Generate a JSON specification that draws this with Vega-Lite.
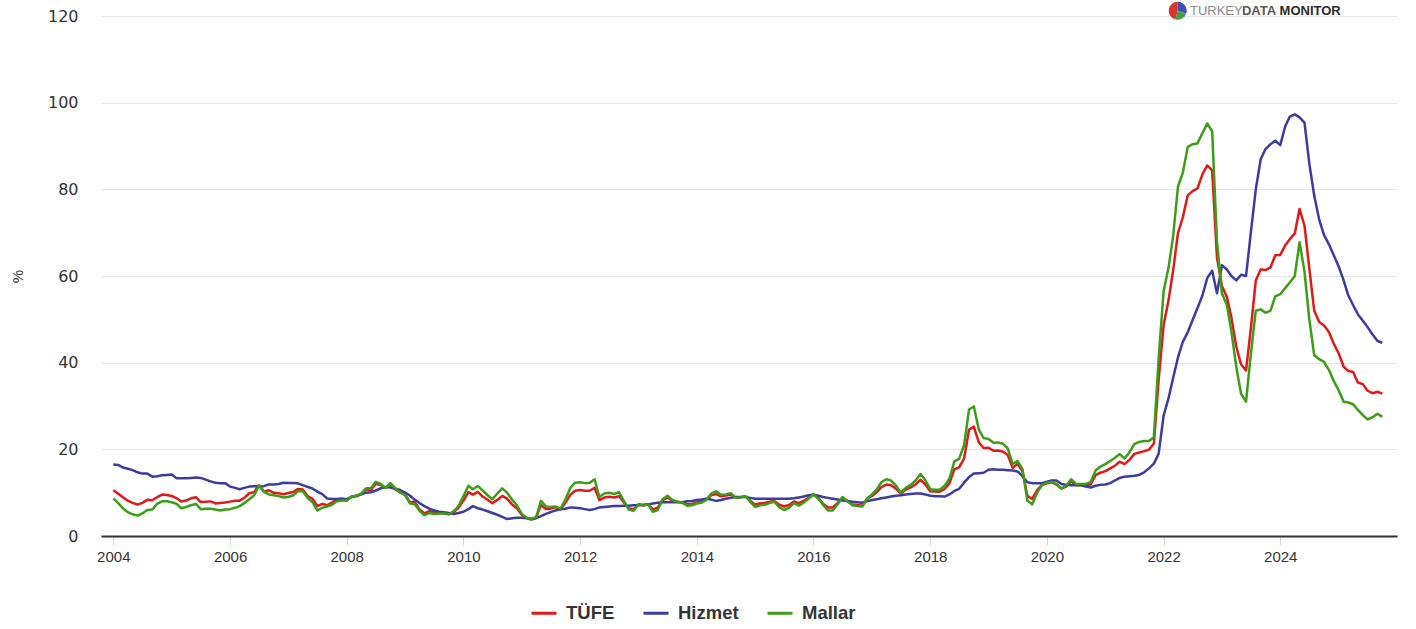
{
  "$schema": "https://vega.github.io/schema/vega-lite/v6.json",
  "width": 1296,
  "height": 520,
  "padding": {"left": 101, "top": 16, "right": 19, "bottom": 93},
  "autosize": {"type": "none"},
  "background": "white",
  "config": {
    "view": {"stroke": null},
    "font": "Liberation Sans"
  },
  "datasets": {
    "cpi": [
      {"d":"2004-01","TÜFE":10.55,"Hizmet":16.5,"Mallar":8.7},
      {"d":"2004-02","TÜFE":9.75,"Hizmet":16.4,"Mallar":7.6},
      {"d":"2004-03","TÜFE":8.95,"Hizmet":15.8,"Mallar":6.4},
      {"d":"2004-04","TÜFE":8.15,"Hizmet":15.5,"Mallar":5.5},
      {"d":"2004-05","TÜFE":7.65,"Hizmet":15.2,"Mallar":5.0},
      {"d":"2004-06","TÜFE":7.25,"Hizmet":14.7,"Mallar":4.7},
      {"d":"2004-07","TÜFE":7.65,"Hizmet":14.4,"Mallar":5.2},
      {"d":"2004-08","TÜFE":8.35,"Hizmet":14.4,"Mallar":6.0},
      {"d":"2004-09","TÜFE":8.25,"Hizmet":13.7,"Mallar":6.1},
      {"d":"2004-10","TÜFE":8.95,"Hizmet":13.8,"Mallar":7.4},
      {"d":"2004-11","TÜFE":9.55,"Hizmet":14.0,"Mallar":8.0},
      {"d":"2004-12","TÜFE":9.45,"Hizmet":14.1,"Mallar":8.0},
      {"d":"2005-01","TÜFE":9.24,"Hizmet":14.2,"Mallar":7.8},
      {"d":"2005-02","TÜFE":8.69,"Hizmet":13.3,"Mallar":7.4},
      {"d":"2005-03","TÜFE":7.94,"Hizmet":13.3,"Mallar":6.4},
      {"d":"2005-04","TÜFE":8.18,"Hizmet":13.3,"Mallar":6.7},
      {"d":"2005-05","TÜFE":8.70,"Hizmet":13.4,"Mallar":7.1},
      {"d":"2005-06","TÜFE":8.95,"Hizmet":13.5,"Mallar":7.4},
      {"d":"2005-07","TÜFE":7.82,"Hizmet":13.4,"Mallar":6.2},
      {"d":"2005-08","TÜFE":7.91,"Hizmet":13.0,"Mallar":6.3},
      {"d":"2005-09","TÜFE":7.99,"Hizmet":12.6,"Mallar":6.3},
      {"d":"2005-10","TÜFE":7.52,"Hizmet":12.3,"Mallar":6.1},
      {"d":"2005-11","TÜFE":7.61,"Hizmet":12.2,"Mallar":5.9},
      {"d":"2005-12","TÜFE":7.72,"Hizmet":12.2,"Mallar":6.1},
      {"d":"2006-01","TÜFE":7.93,"Hizmet":11.4,"Mallar":6.2},
      {"d":"2006-02","TÜFE":8.15,"Hizmet":11.1,"Mallar":6.5},
      {"d":"2006-03","TÜFE":8.16,"Hizmet":10.8,"Mallar":6.9},
      {"d":"2006-04","TÜFE":8.83,"Hizmet":11.1,"Mallar":7.6},
      {"d":"2006-05","TÜFE":9.86,"Hizmet":11.4,"Mallar":8.5},
      {"d":"2006-06","TÜFE":10.12,"Hizmet":11.5,"Mallar":9.4},
      {"d":"2006-07","TÜFE":11.69,"Hizmet":11.4,"Mallar":11.6},
      {"d":"2006-08","TÜFE":10.26,"Hizmet":11.5,"Mallar":10.2},
      {"d":"2006-09","TÜFE":10.55,"Hizmet":11.9,"Mallar":9.6},
      {"d":"2006-10","TÜFE":9.98,"Hizmet":11.9,"Mallar":9.4},
      {"d":"2006-11","TÜFE":9.86,"Hizmet":12.0,"Mallar":9.2},
      {"d":"2006-12","TÜFE":9.65,"Hizmet":12.3,"Mallar":8.9},
      {"d":"2007-01","TÜFE":9.93,"Hizmet":12.25,"Mallar":9.0},
      {"d":"2007-02","TÜFE":10.16,"Hizmet":12.25,"Mallar":9.4},
      {"d":"2007-03","TÜFE":10.86,"Hizmet":12.15,"Mallar":10.3},
      {"d":"2007-04","TÜFE":10.72,"Hizmet":11.75,"Mallar":10.3},
      {"d":"2007-05","TÜFE":9.23,"Hizmet":11.35,"Mallar":8.8},
      {"d":"2007-06","TÜFE":8.60,"Hizmet":10.95,"Mallar":7.8},
      {"d":"2007-07","TÜFE":6.90,"Hizmet":10.25,"Mallar":5.9},
      {"d":"2007-08","TÜFE":7.39,"Hizmet":9.65,"Mallar":6.5},
      {"d":"2007-09","TÜFE":7.12,"Hizmet":8.65,"Mallar":6.8},
      {"d":"2007-10","TÜFE":7.70,"Hizmet":8.55,"Mallar":7.2},
      {"d":"2007-11","TÜFE":8.40,"Hizmet":8.55,"Mallar":8.0},
      {"d":"2007-12","TÜFE":8.39,"Hizmet":8.65,"Mallar":8.2},
      {"d":"2008-01","TÜFE":8.17,"Hizmet":8.5,"Mallar":8.2},
      {"d":"2008-02","TÜFE":9.10,"Hizmet":9.0,"Mallar":9.1},
      {"d":"2008-03","TÜFE":9.15,"Hizmet":9.3,"Mallar":9.3},
      {"d":"2008-04","TÜFE":9.66,"Hizmet":9.6,"Mallar":9.8},
      {"d":"2008-05","TÜFE":10.74,"Hizmet":10.0,"Mallar":11.0},
      {"d":"2008-06","TÜFE":10.61,"Hizmet":10.1,"Mallar":11.0},
      {"d":"2008-07","TÜFE":12.06,"Hizmet":10.5,"Mallar":12.5},
      {"d":"2008-08","TÜFE":11.77,"Hizmet":11.0,"Mallar":12.0},
      {"d":"2008-09","TÜFE":11.13,"Hizmet":11.3,"Mallar":11.1},
      {"d":"2008-10","TÜFE":11.99,"Hizmet":11.2,"Mallar":12.2},
      {"d":"2008-11","TÜFE":10.76,"Hizmet":10.9,"Mallar":11.0},
      {"d":"2008-12","TÜFE":10.06,"Hizmet":10.6,"Mallar":10.1},
      {"d":"2009-01","TÜFE":9.50,"Hizmet":10.0,"Mallar":9.4},
      {"d":"2009-02","TÜFE":7.73,"Hizmet":9.3,"Mallar":7.5},
      {"d":"2009-03","TÜFE":7.89,"Hizmet":8.4,"Mallar":7.4},
      {"d":"2009-04","TÜFE":6.13,"Hizmet":7.6,"Mallar":5.8},
      {"d":"2009-05","TÜFE":5.24,"Hizmet":6.9,"Mallar":4.8},
      {"d":"2009-06","TÜFE":5.73,"Hizmet":6.3,"Mallar":5.3},
      {"d":"2009-07","TÜFE":5.39,"Hizmet":5.9,"Mallar":5.1},
      {"d":"2009-08","TÜFE":5.33,"Hizmet":5.6,"Mallar":5.2},
      {"d":"2009-09","TÜFE":5.27,"Hizmet":5.5,"Mallar":5.2},
      {"d":"2009-10","TÜFE":5.08,"Hizmet":5.3,"Mallar":5.0},
      {"d":"2009-11","TÜFE":5.53,"Hizmet":5.1,"Mallar":5.7},
      {"d":"2009-12","TÜFE":6.53,"Hizmet":5.3,"Mallar":6.9},
      {"d":"2010-01","TÜFE":8.19,"Hizmet":5.6,"Mallar":9.2},
      {"d":"2010-02","TÜFE":10.13,"Hizmet":6.2,"Mallar":11.6},
      {"d":"2010-03","TÜFE":9.56,"Hizmet":6.9,"Mallar":10.8},
      {"d":"2010-04","TÜFE":10.19,"Hizmet":6.4,"Mallar":11.5},
      {"d":"2010-05","TÜFE":9.10,"Hizmet":6.1,"Mallar":10.5},
      {"d":"2010-06","TÜFE":8.37,"Hizmet":5.7,"Mallar":9.4},
      {"d":"2010-07","TÜFE":7.58,"Hizmet":5.3,"Mallar":8.5},
      {"d":"2010-08","TÜFE":8.33,"Hizmet":4.9,"Mallar":9.8},
      {"d":"2010-09","TÜFE":9.24,"Hizmet":4.4,"Mallar":11.0},
      {"d":"2010-10","TÜFE":8.62,"Hizmet":3.9,"Mallar":10.0},
      {"d":"2010-11","TÜFE":7.29,"Hizmet":4.1,"Mallar":8.4},
      {"d":"2010-12","TÜFE":6.40,"Hizmet":4.2,"Mallar":7.1},
      {"d":"2011-01","TÜFE":4.90,"Hizmet":4.2,"Mallar":5.1},
      {"d":"2011-02","TÜFE":4.16,"Hizmet":4.1,"Mallar":4.2},
      {"d":"2011-03","TÜFE":3.99,"Hizmet":3.8,"Mallar":4.0},
      {"d":"2011-04","TÜFE":4.26,"Hizmet":4.1,"Mallar":4.3},
      {"d":"2011-05","TÜFE":7.17,"Hizmet":4.6,"Mallar":8.1},
      {"d":"2011-06","TÜFE":6.24,"Hizmet":5.1,"Mallar":6.8},
      {"d":"2011-07","TÜFE":6.31,"Hizmet":5.5,"Mallar":6.7},
      {"d":"2011-08","TÜFE":6.65,"Hizmet":5.9,"Mallar":6.8},
      {"d":"2011-09","TÜFE":6.15,"Hizmet":6.2,"Mallar":6.3},
      {"d":"2011-10","TÜFE":7.66,"Hizmet":6.3,"Mallar":8.4},
      {"d":"2011-11","TÜFE":9.48,"Hizmet":6.6,"Mallar":11.1},
      {"d":"2011-12","TÜFE":10.45,"Hizmet":6.5,"Mallar":12.3},
      {"d":"2012-01","TÜFE":10.61,"Hizmet":6.4,"Mallar":12.4},
      {"d":"2012-02","TÜFE":10.43,"Hizmet":6.2,"Mallar":12.2},
      {"d":"2012-03","TÜFE":10.43,"Hizmet":6.0,"Mallar":12.3},
      {"d":"2012-04","TÜFE":11.14,"Hizmet":6.2,"Mallar":13.1},
      {"d":"2012-05","TÜFE":8.28,"Hizmet":6.6,"Mallar":9.0},
      {"d":"2012-06","TÜFE":8.87,"Hizmet":6.7,"Mallar":9.8},
      {"d":"2012-07","TÜFE":9.07,"Hizmet":6.8,"Mallar":10.0},
      {"d":"2012-08","TÜFE":8.88,"Hizmet":6.9,"Mallar":9.7},
      {"d":"2012-09","TÜFE":9.19,"Hizmet":6.9,"Mallar":10.1},
      {"d":"2012-10","TÜFE":7.80,"Hizmet":7.0,"Mallar":8.1},
      {"d":"2012-11","TÜFE":6.37,"Hizmet":7.0,"Mallar":6.1},
      {"d":"2012-12","TÜFE":6.16,"Hizmet":7.1,"Mallar":5.8},
      {"d":"2013-01","TÜFE":7.31,"Hizmet":7.1,"Mallar":7.4},
      {"d":"2013-02","TÜFE":7.03,"Hizmet":7.2,"Mallar":7.0},
      {"d":"2013-03","TÜFE":7.29,"Hizmet":7.3,"Mallar":7.3},
      {"d":"2013-04","TÜFE":6.13,"Hizmet":7.5,"Mallar":5.6},
      {"d":"2013-05","TÜFE":6.51,"Hizmet":7.7,"Mallar":6.0},
      {"d":"2013-06","TÜFE":8.30,"Hizmet":7.8,"Mallar":8.5},
      {"d":"2013-07","TÜFE":8.88,"Hizmet":7.8,"Mallar":9.3},
      {"d":"2013-08","TÜFE":8.17,"Hizmet":7.8,"Mallar":8.3},
      {"d":"2013-09","TÜFE":7.88,"Hizmet":7.8,"Mallar":7.9},
      {"d":"2013-10","TÜFE":7.71,"Hizmet":7.8,"Mallar":7.7},
      {"d":"2013-11","TÜFE":7.32,"Hizmet":8.0,"Mallar":7.0},
      {"d":"2013-12","TÜFE":7.40,"Hizmet":8.1,"Mallar":7.1},
      {"d":"2014-01","TÜFE":7.75,"Hizmet":8.3,"Mallar":7.5},
      {"d":"2014-02","TÜFE":7.89,"Hizmet":8.4,"Mallar":7.7},
      {"d":"2014-03","TÜFE":8.39,"Hizmet":8.6,"Mallar":8.3},
      {"d":"2014-04","TÜFE":9.38,"Hizmet":8.4,"Mallar":9.8},
      {"d":"2014-05","TÜFE":9.66,"Hizmet":8.1,"Mallar":10.3},
      {"d":"2014-06","TÜFE":9.16,"Hizmet":8.3,"Mallar":9.5},
      {"d":"2014-07","TÜFE":9.32,"Hizmet":8.6,"Mallar":9.6},
      {"d":"2014-08","TÜFE":9.54,"Hizmet":8.8,"Mallar":9.9},
      {"d":"2014-09","TÜFE":8.86,"Hizmet":9.0,"Mallar":8.8},
      {"d":"2014-10","TÜFE":8.96,"Hizmet":9.0,"Mallar":8.9},
      {"d":"2014-11","TÜFE":9.15,"Hizmet":9.0,"Mallar":9.2},
      {"d":"2014-12","TÜFE":8.17,"Hizmet":8.8,"Mallar":7.9},
      {"d":"2015-01","TÜFE":7.24,"Hizmet":8.6,"Mallar":6.7},
      {"d":"2015-02","TÜFE":7.55,"Hizmet":8.6,"Mallar":7.1},
      {"d":"2015-03","TÜFE":7.61,"Hizmet":8.6,"Mallar":7.2},
      {"d":"2015-04","TÜFE":7.91,"Hizmet":8.6,"Mallar":7.6},
      {"d":"2015-05","TÜFE":8.09,"Hizmet":8.6,"Mallar":7.9},
      {"d":"2015-06","TÜFE":7.20,"Hizmet":8.6,"Mallar":6.6},
      {"d":"2015-07","TÜFE":6.81,"Hizmet":8.6,"Mallar":6.0},
      {"d":"2015-08","TÜFE":7.14,"Hizmet":8.6,"Mallar":6.5},
      {"d":"2015-09","TÜFE":7.95,"Hizmet":8.7,"Mallar":7.6},
      {"d":"2015-10","TÜFE":7.58,"Hizmet":8.9,"Mallar":7.0},
      {"d":"2015-11","TÜFE":8.10,"Hizmet":9.1,"Mallar":7.7},
      {"d":"2015-12","TÜFE":8.81,"Hizmet":9.4,"Mallar":8.6},
      {"d":"2016-01","TÜFE":9.58,"Hizmet":9.5,"Mallar":9.6},
      {"d":"2016-02","TÜFE":8.78,"Hizmet":9.3,"Mallar":8.6},
      {"d":"2016-03","TÜFE":7.46,"Hizmet":9.0,"Mallar":7.2},
      {"d":"2016-04","TÜFE":6.57,"Hizmet":8.8,"Mallar":5.9},
      {"d":"2016-05","TÜFE":6.58,"Hizmet":8.6,"Mallar":5.9},
      {"d":"2016-06","TÜFE":7.64,"Hizmet":8.4,"Mallar":7.4},
      {"d":"2016-07","TÜFE":8.79,"Hizmet":8.2,"Mallar":9.0},
      {"d":"2016-08","TÜFE":8.05,"Hizmet":8.1,"Mallar":8.0},
      {"d":"2016-09","TÜFE":7.28,"Hizmet":7.9,"Mallar":7.1},
      {"d":"2016-10","TÜFE":7.16,"Hizmet":7.8,"Mallar":6.9},
      {"d":"2016-11","TÜFE":7.00,"Hizmet":7.7,"Mallar":6.8},
      {"d":"2016-12","TÜFE":8.53,"Hizmet":8.0,"Mallar":8.6},
      {"d":"2017-01","TÜFE":9.22,"Hizmet":8.3,"Mallar":9.6},
      {"d":"2017-02","TÜFE":10.13,"Hizmet":8.5,"Mallar":10.8},
      {"d":"2017-03","TÜFE":11.29,"Hizmet":8.7,"Mallar":12.4},
      {"d":"2017-04","TÜFE":11.87,"Hizmet":8.9,"Mallar":13.1},
      {"d":"2017-05","TÜFE":11.72,"Hizmet":9.1,"Mallar":12.8},
      {"d":"2017-06","TÜFE":10.90,"Hizmet":9.3,"Mallar":11.6},
      {"d":"2017-07","TÜFE":9.79,"Hizmet":9.4,"Mallar":10.0},
      {"d":"2017-08","TÜFE":10.68,"Hizmet":9.6,"Mallar":11.1},
      {"d":"2017-09","TÜFE":11.20,"Hizmet":9.7,"Mallar":11.8},
      {"d":"2017-10","TÜFE":11.90,"Hizmet":9.8,"Mallar":12.8},
      {"d":"2017-11","TÜFE":12.98,"Hizmet":9.8,"Mallar":14.3},
      {"d":"2017-12","TÜFE":11.92,"Hizmet":9.6,"Mallar":12.9},
      {"d":"2018-01","TÜFE":10.35,"Hizmet":9.3,"Mallar":10.8},
      {"d":"2018-02","TÜFE":10.26,"Hizmet":9.2,"Mallar":10.7},
      {"d":"2018-03","TÜFE":10.23,"Hizmet":9.2,"Mallar":10.7},
      {"d":"2018-04","TÜFE":10.85,"Hizmet":9.1,"Mallar":11.6},
      {"d":"2018-05","TÜFE":12.15,"Hizmet":9.6,"Mallar":13.2},
      {"d":"2018-06","TÜFE":15.39,"Hizmet":10.4,"Mallar":17.2},
      {"d":"2018-07","TÜFE":15.85,"Hizmet":10.9,"Mallar":17.8},
      {"d":"2018-08","TÜFE":17.90,"Hizmet":12.3,"Mallar":21.0},
      {"d":"2018-09","TÜFE":24.52,"Hizmet":13.6,"Mallar":29.2},
      {"d":"2018-10","TÜFE":25.24,"Hizmet":14.4,"Mallar":29.9},
      {"d":"2018-11","TÜFE":21.62,"Hizmet":14.5,"Mallar":24.6},
      {"d":"2018-12","TÜFE":20.30,"Hizmet":14.6,"Mallar":22.6},
      {"d":"2019-01","TÜFE":20.35,"Hizmet":15.3,"Mallar":22.4},
      {"d":"2019-02","TÜFE":19.67,"Hizmet":15.4,"Mallar":21.5},
      {"d":"2019-03","TÜFE":19.71,"Hizmet":15.3,"Mallar":21.6},
      {"d":"2019-04","TÜFE":19.50,"Hizmet":15.3,"Mallar":21.3},
      {"d":"2019-05","TÜFE":18.71,"Hizmet":15.2,"Mallar":20.2},
      {"d":"2019-06","TÜFE":15.72,"Hizmet":15.1,"Mallar":16.6},
      {"d":"2019-07","TÜFE":16.65,"Hizmet":14.9,"Mallar":17.3},
      {"d":"2019-08","TÜFE":15.01,"Hizmet":13.8,"Mallar":15.5},
      {"d":"2019-09","TÜFE":9.26,"Hizmet":12.4,"Mallar":8.2},
      {"d":"2019-10","TÜFE":8.55,"Hizmet":12.2,"Mallar":7.3},
      {"d":"2019-11","TÜFE":10.56,"Hizmet":12.2,"Mallar":10.0},
      {"d":"2019-12","TÜFE":11.84,"Hizmet":12.2,"Mallar":11.7},
      {"d":"2020-01","TÜFE":12.15,"Hizmet":12.5,"Mallar":12.3},
      {"d":"2020-02","TÜFE":12.37,"Hizmet":12.8,"Mallar":12.4},
      {"d":"2020-03","TÜFE":11.86,"Hizmet":12.8,"Mallar":12.0},
      {"d":"2020-04","TÜFE":10.94,"Hizmet":12.0,"Mallar":11.0},
      {"d":"2020-05","TÜFE":11.39,"Hizmet":11.8,"Mallar":11.6},
      {"d":"2020-06","TÜFE":12.62,"Hizmet":11.7,"Mallar":13.1},
      {"d":"2020-07","TÜFE":11.76,"Hizmet":11.7,"Mallar":12.0},
      {"d":"2020-08","TÜFE":11.77,"Hizmet":11.7,"Mallar":12.0},
      {"d":"2020-09","TÜFE":11.75,"Hizmet":11.4,"Mallar":12.0},
      {"d":"2020-10","TÜFE":11.89,"Hizmet":11.2,"Mallar":12.4},
      {"d":"2020-11","TÜFE":14.03,"Hizmet":11.6,"Mallar":15.1},
      {"d":"2020-12","TÜFE":14.60,"Hizmet":11.8,"Mallar":16.0},
      {"d":"2021-01","TÜFE":14.97,"Hizmet":11.9,"Mallar":16.6},
      {"d":"2021-02","TÜFE":15.61,"Hizmet":12.2,"Mallar":17.3},
      {"d":"2021-03","TÜFE":16.19,"Hizmet":12.8,"Mallar":18.0},
      {"d":"2021-04","TÜFE":17.14,"Hizmet":13.4,"Mallar":18.9},
      {"d":"2021-05","TÜFE":16.59,"Hizmet":13.7,"Mallar":17.9},
      {"d":"2021-06","TÜFE":17.53,"Hizmet":13.8,"Mallar":19.3},
      {"d":"2021-07","TÜFE":18.95,"Hizmet":13.9,"Mallar":21.2},
      {"d":"2021-08","TÜFE":19.25,"Hizmet":14.1,"Mallar":21.7},
      {"d":"2021-09","TÜFE":19.58,"Hizmet":14.7,"Mallar":21.9},
      {"d":"2021-10","TÜFE":19.89,"Hizmet":15.6,"Mallar":21.9},
      {"d":"2021-11","TÜFE":21.31,"Hizmet":16.7,"Mallar":22.8},
      {"d":"2021-12","TÜFE":36.08,"Hizmet":19.0,"Mallar":41.0},
      {"d":"2022-01","TÜFE":48.69,"Hizmet":27.8,"Mallar":56.5},
      {"d":"2022-02","TÜFE":54.44,"Hizmet":31.8,"Mallar":62.0},
      {"d":"2022-03","TÜFE":61.14,"Hizmet":36.4,"Mallar":69.0},
      {"d":"2022-04","TÜFE":69.97,"Hizmet":41.2,"Mallar":80.7},
      {"d":"2022-05","TÜFE":73.50,"Hizmet":44.8,"Mallar":83.8},
      {"d":"2022-06","TÜFE":78.62,"Hizmet":47.0,"Mallar":89.8},
      {"d":"2022-07","TÜFE":79.60,"Hizmet":49.8,"Mallar":90.4},
      {"d":"2022-08","TÜFE":80.21,"Hizmet":52.6,"Mallar":90.6},
      {"d":"2022-09","TÜFE":83.45,"Hizmet":55.5,"Mallar":93.0},
      {"d":"2022-10","TÜFE":85.51,"Hizmet":59.5,"Mallar":95.2},
      {"d":"2022-11","TÜFE":84.39,"Hizmet":61.2,"Mallar":93.4},
      {"d":"2022-12","TÜFE":64.27,"Hizmet":56.0,"Mallar":68.0},
      {"d":"2023-01","TÜFE":57.68,"Hizmet":62.5,"Mallar":56.0},
      {"d":"2023-02","TÜFE":55.18,"Hizmet":61.5,"Mallar":53.3},
      {"d":"2023-03","TÜFE":50.51,"Hizmet":60.0,"Mallar":47.3},
      {"d":"2023-04","TÜFE":43.68,"Hizmet":59.0,"Mallar":39.0},
      {"d":"2023-05","TÜFE":39.59,"Hizmet":60.3,"Mallar":32.8},
      {"d":"2023-06","TÜFE":38.21,"Hizmet":60.0,"Mallar":31.0},
      {"d":"2023-07","TÜFE":47.83,"Hizmet":70.0,"Mallar":42.0},
      {"d":"2023-08","TÜFE":58.94,"Hizmet":80.0,"Mallar":52.0},
      {"d":"2023-09","TÜFE":61.53,"Hizmet":87.0,"Mallar":52.3},
      {"d":"2023-10","TÜFE":61.36,"Hizmet":89.3,"Mallar":51.5},
      {"d":"2023-11","TÜFE":61.98,"Hizmet":90.4,"Mallar":52.0},
      {"d":"2023-12","TÜFE":64.77,"Hizmet":91.2,"Mallar":55.3},
      {"d":"2024-01","TÜFE":64.86,"Hizmet":90.2,"Mallar":55.8},
      {"d":"2024-02","TÜFE":67.07,"Hizmet":94.5,"Mallar":57.2},
      {"d":"2024-03","TÜFE":68.50,"Hizmet":96.8,"Mallar":58.5},
      {"d":"2024-04","TÜFE":69.80,"Hizmet":97.3,"Mallar":60.0},
      {"d":"2024-05","TÜFE":75.45,"Hizmet":96.6,"Mallar":67.8},
      {"d":"2024-06","TÜFE":71.60,"Hizmet":95.4,"Mallar":61.0},
      {"d":"2024-07","TÜFE":61.78,"Hizmet":86.0,"Mallar":50.0},
      {"d":"2024-08","TÜFE":51.97,"Hizmet":78.5,"Mallar":41.7},
      {"d":"2024-09","TÜFE":49.38,"Hizmet":73.0,"Mallar":40.8},
      {"d":"2024-10","TÜFE":48.58,"Hizmet":69.5,"Mallar":40.2},
      {"d":"2024-11","TÜFE":47.09,"Hizmet":67.3,"Mallar":38.3},
      {"d":"2024-12","TÜFE":44.38,"Hizmet":64.8,"Mallar":35.8},
      {"d":"2025-01","TÜFE":42.12,"Hizmet":62.2,"Mallar":33.6},
      {"d":"2025-02","TÜFE":39.05,"Hizmet":59.0,"Mallar":31.0},
      {"d":"2025-03","TÜFE":38.10,"Hizmet":55.6,"Mallar":30.8},
      {"d":"2025-04","TÜFE":37.86,"Hizmet":53.3,"Mallar":30.4},
      {"d":"2025-05","TÜFE":35.41,"Hizmet":51.2,"Mallar":29.1},
      {"d":"2025-06","TÜFE":35.05,"Hizmet":49.7,"Mallar":27.9},
      {"d":"2025-07","TÜFE":33.52,"Hizmet":48.2,"Mallar":26.9},
      {"d":"2025-08","TÜFE":32.95,"Hizmet":46.5,"Mallar":27.4},
      {"d":"2025-09","TÜFE":33.29,"Hizmet":45.0,"Mallar":28.2},
      {"d":"2025-10","TÜFE":32.87,"Hizmet":44.6,"Mallar":27.5}
    ]
  },
  "layer": [
    {
      "data": {"name": "cpi"},
      "transform": [{"fold": ["TÜFE", "Hizmet", "Mallar"], "as": ["seri", "deger"]}],
      "mark": {"type": "line", "strokeWidth": 2.5, "strokeJoin": "round"},
      "encoding": {
        "x": {
          "field": "d", "type": "temporal",
          "scale": {"type": "utc", "domain": [{"year": 2003, "month": 10, "date": 16, "utc": true}, {"year": 2026, "month": 1, "date": 1, "utc": true}]},
          "axis": {
            "title": null,
            "format": "%Y",
            "values": [
              {"year": 2004, "utc": true}, {"year": 2006, "utc": true}, {"year": 2008, "utc": true},
              {"year": 2010, "utc": true}, {"year": 2012, "utc": true}, {"year": 2014, "utc": true},
              {"year": 2016, "utc": true}, {"year": 2018, "utc": true}, {"year": 2020, "utc": true},
              {"year": 2022, "utc": true}, {"year": 2024, "utc": true}
            ],
            "grid": false,
            "domainColor": "#333333",
            "domainWidth": 2,
            "tickColor": "#ccd6eb",
            "tickSize": 9,
            "tickWidth": 1,
            "labelFontSize": 15,
            "labelColor": "#333333",
            "labelPadding": 4,
            "labelFlush": false
          }
        },
        "y": {
          "field": "deger", "type": "quantitative",
          "scale": {"domain": [0, 120], "nice": false, "zero": true},
          "axis": {
            "title": "%",
            "titleFontSize": 15,
            "titleFontWeight": "normal",
            "titleColor": "#333333",
            "titlePadding": 22,
            "values": [0, 20, 40, 60, 80, 100, 120],
            "domain": false,
            "ticks": false,
            "grid": true,
            "gridColor": "#e6e6e6",
            "gridWidth": 1,
            "labelFont": "DejaVu Sans",
            "labelFontSize": 16,
            "labelColor": "#333333",
            "labelPadding": 23
          }
        },
        "color": {
          "field": "seri", "type": "nominal",
          "scale": {"domain": ["TÜFE", "Hizmet", "Mallar"], "range": ["#e0191b", "#3c3c9e", "#3c9d16"]},
          "legend": {
            "title": null,
            "orient": "none",
            "legendX": 429,
            "legendY": 583,
            "direction": "horizontal",
            "symbolType": "stroke",
            "symbolSize": 625,
            "symbolStrokeWidth": 3,
            "labelFontSize": 18.5,
            "labelFontWeight": "bold",
            "labelColor": "#333333",
            "labelOffset": 8,
            "columnPadding": 22
          }
        }
      }
    },
    {
      "data": {"values": [{}]},
      "mark": {"type": "text", "align": "left", "baseline": "middle", "fontSize": 13, "color": "#8a8a8a", "font": "Liberation Sans"},
      "encoding": {
        "x": {"datum": {"year": 2022, "month": 6, "date": 15, "utc": true}, "type": "temporal"},
        "y": {"datum": 121.2, "type": "quantitative"},
        "text": {"value": "TURKEY"}
      }
    },
    {
      "data": {"values": [{}]},
      "mark": {"type": "text", "align": "left", "baseline": "middle", "fontSize": 13, "fontWeight": "bold", "color": "#5a5a5a", "font": "Liberation Sans"},
      "encoding": {
        "x": {"datum": {"year": 2023, "month": 5, "date": 6, "utc": true}, "type": "temporal"},
        "y": {"datum": 121.2, "type": "quantitative"},
        "text": {"value": "DATA"}
      }
    },
    {
      "data": {"values": [{}]},
      "mark": {"type": "text", "align": "left", "baseline": "middle", "fontSize": 13, "fontWeight": "bold", "color": "#2b2b2b", "font": "Liberation Sans"},
      "encoding": {
        "x": {"datum": {"year": 2023, "month": 12, "date": 28, "utc": true}, "type": "temporal"},
        "y": {"datum": 121.2, "type": "quantitative"},
        "text": {"value": "MONITOR"}
      }
    },
    {
      "data": {"values": [{}]},
      "mark": {"type": "arc", "theta": 3.4, "theta2": 6.2832, "outerRadius": 9, "color": "#d9352b"},
      "encoding": {
        "x": {"datum": {"year": 2022, "month": 3, "date": 30, "utc": true}, "type": "temporal"},
        "y": {"datum": 121.2, "type": "quantitative"}
      }
    },
    {
      "data": {"values": [{}]},
      "mark": {"type": "arc", "theta": 0, "theta2": 1.9, "outerRadius": 9, "color": "#3f51b5"},
      "encoding": {
        "x": {"datum": {"year": 2022, "month": 3, "date": 30, "utc": true}, "type": "temporal"},
        "y": {"datum": 121.2, "type": "quantitative"}
      }
    },
    {
      "data": {"values": [{}]},
      "mark": {"type": "arc", "theta": 1.9, "theta2": 3.4, "outerRadius": 9, "color": "#43a047"},
      "encoding": {
        "x": {"datum": {"year": 2022, "month": 3, "date": 30, "utc": true}, "type": "temporal"},
        "y": {"datum": 121.2, "type": "quantitative"}
      }
    }
  ]
}
